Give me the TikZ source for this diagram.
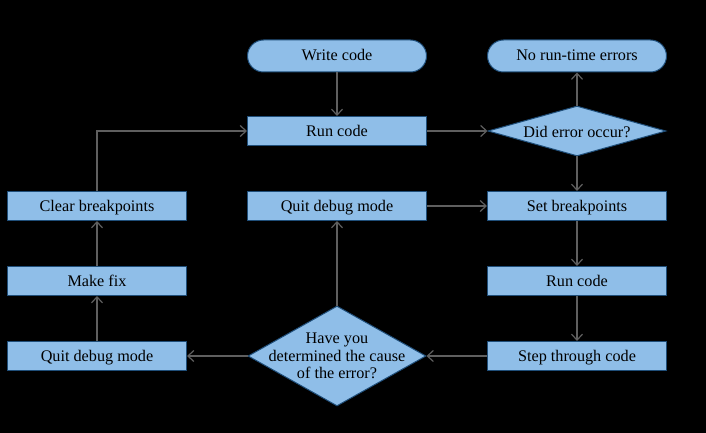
\documentclass[tikz,border=0pt]{standalone}
\usepackage{fontspec}
\setmainfont{Liberation Serif}
\newfontfamily\flowfont{Liberation Serif}
\usetikzlibrary{shapes.geometric,arrows.meta}
\definecolor{boxfill}{RGB}{143,190,232}
\definecolor{boxline}{RGB}{31,78,121}
\definecolor{flowline}{RGB}{95,95,95}
\begin{document}
\begin{tikzpicture}[x=1pt, y=1pt, node distance=75pt,
                    font=\flowfont\fontsize{16.2}{17.5}\selectfont,
                    base node/.style={draw=boxline, fill=boxfill, line width=1pt, inner sep=0pt},
                    process/.style={base node, rectangle, minimum width=179pt, minimum height=29pt,
                                    text height=12pt, text depth=2pt},
                    terminal/.style={process, rounded corners=16pt, minimum height=32pt},
                    decision/.style={base node, diamond, minimum width=178pt, minimum height=50pt},
                    flow/.style={draw=flowline, line width=1.2pt, -{Straight Barb[length=6pt,width=11pt]}}]
    \useasboundingbox[fill=black] (0,0) rectangle (706,-433);

    \node[process]  (run1)   at (337,-131)                    {Run code};
    \node[terminal] (write)  [above of=run1]                  {Write code};
    \node[decision, label={[yshift=-1pt]center:Did error occur?}]
                    (occur)  [right of=run1, xshift=165pt]    {};
    \node[terminal] (noerr)  [above of=occur]                 {No run-time errors};
    \node[process]  (setbp)  [below of=occur]                 {Set breakpoints};
    \node[process]  (run2)   [below of=setbp]                 {Run code};
    \node[process]  (step)   [below of=run2]                  {Step through code};
    \node[process]  (quit1)  [below of=run1]                  {Quit debug mode};
    \node[decision, minimum height=100pt,
          label={[align=center]center:Have you\\determined the cause\\of the error?}]
                    (cause)  at (337,-356)                    {};
    \node[process]  (quit2)  [left of=cause, xshift=-165pt]   {Quit debug mode};
    \node[process]  (fix)    [above of=quit2]                 {Make fix};
    \node[process]  (clear)  [above of=fix]                   {Clear breakpoints};

    \path[flow]
    (write) edge (run1)
    (run1)  edge (occur)
    (occur) edge (noerr)
            edge (setbp)
    (quit1) edge (setbp)
    (setbp) edge (run2)
    (run2)  edge (step)
    (step)  edge (cause)
    (cause) edge (quit2)
            edge (quit1)
    (quit2) edge (fix)
    (fix)   edge (clear);
    \draw[flow] (clear.north) |- (run1.west);
\end{tikzpicture}
\end{document}
